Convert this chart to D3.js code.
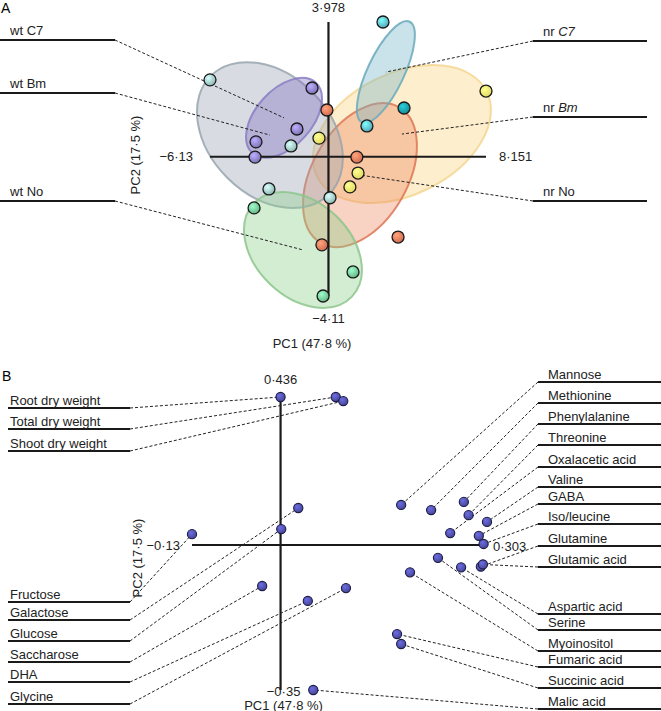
<!DOCTYPE html>
<html><head><meta charset="utf-8">
<script src="https://cdn.jsdelivr.net/npm/d3@7"></script>
<style>
html,body{margin:0;padding:0;background:#fff;}
svg{display:block;font-family:"Liberation Sans",Arial,Helvetica,sans-serif;}
</style></head>
<body>
<svg id="c" width="661" height="711"></svg>
<script>
// ---------- Panel A data ----------
const groupsA = ["wt C7","wt Bm","wt No","nr C7","nr Bm","nr No"];
const scoreGroup = ["nr C7","nr C7d","nr C7",
  "wt C7","wt C7","wt C7","wt C7",
  "wt Bm","wt Bm","wt Bm","wt Bm",
  "nr Bm","nr Bm","nr Bm","nr Bm",
  "nr No","nr No","nr No","nr No",
  "wt No","wt No","wt No"];
const scorePC1 = [2.82,3.91,1.99, -0.85,-1.63,-3.75,-3.80, -6.13,-1.94,-3.08,0.08, 8.151,-0.49,1.53,1.11, -0.08,1.47,-0.34,3.60, -3.85,1.27,-0.28];
const scorePC2 = [3.978,1.44,0.91, 2.03,0.82,0.44,-0.01, 2.27,0.32,-0.95,-1.21, 1.94,0.55,-0.48,-0.89, 1.38,-0.01,-2.60,-2.37, -1.51,-3.40,-4.11];
// confidence ellipses: centre (PC1, PC2), semi-axes (PC1 units, PC2 units), tilt
const ellGroup = ["nr Bm","nr No","nr C7","wt Bm","wt C7","wt No"];
const ellCX = [3.80,1.63,2.97,-3.03,-2.30,-1.32];
const ellCY = [0.67,-0.54,2.50,0.64,1.15,-2.75];
const ellRX = [4.91,4.05,2.88,4.33,2.45,3.50];
const ellRY = [1.79,1.41,0.54,1.78,0.83,1.40];
const ellAngle = [-26.7,-60,-64.7,45,-48,43.6];
const axisA = {xmin:-6.13, xmax:8.151, ymin:-4.11, ymax:3.978};
const xLabel = "PC1 (47·8 %)", yLabel = "PC2 (17·5 %)";

// ---------- Panel B data ----------
const variablesB = ["Root dry weight","Total dry weight","Shoot dry weight",
 "Fructose","Galactose","Glucose","Saccharose","DHA","Glycine",
 "Mannose","Methionine","Phenylalanine","Threonine","Oxalacetic acid","Valine","GABA","Iso/leucine","Glutamine","Glutamic acid",
 "Aspartic acid","Serine","Myoinositol","Fumaric acid","Succinic acid","Malic acid"];
const loadPC1 = [0.000,0.081,0.092, -0.130,0.026,0.001,-0.027,0.040,0.096,
 0.177,0.221,0.269,0.276,0.249,0.303,0.291,0.298,0.294,0.297,
 0.265,0.231,0.190,0.171,0.177,0.048];
const loadPC2 = [0.436,0.436,0.424, 0.032,0.109,0.047,-0.099,-0.135,-0.104,
 0.118,0.103,0.127,0.088,0.035,0.068,0.027,0.003,-0.052,-0.047,
 -0.054,-0.031,-0.066,-0.215,-0.239,-0.35];
const axisB = {xmin:-0.13, xmax:0.303, ymin:-0.35, ymax:0.436};
const fmt = v => (v<0?"\u2212":"") + String(Math.abs(v)).replace(".", "·");

// ---------- styles ----------
const ptColor = {"wt C7":"#8a7ec8","wt Bm":"#9dc9c2","wt No":"#72c894","nr C7":"#5cb9c9","nr C7d":"#1a99a3","nr Bm":"#f7ee6a","nr No":"#e7775a"};
const ellFill = {"wt C7":"#7e6ec0","wt Bm":"#98a4b2","wt No":"#8ccf8c","nr C7":"#74b2c8","nr Bm":"#f9d27c","nr No":"#ec8a5e"};
const ellStroke = {"wt C7":"#8a7cc4","wt Bm":"#98a4ae","wt No":"#8cc68c","nr C7":"#6aa9bb","nr Bm":"#f4d690","nr No":"#de7655"};

const svg = d3.select("#c");
const defs = svg.append("defs");
function grad(id, c){
  const g = defs.append("radialGradient").attr("id",id).attr("cx","38%").attr("cy","35%").attr("r","65%");
  g.append("stop").attr("offset","0%").attr("stop-color", d3.color(c).brighter(0.9));
  g.append("stop").attr("offset","100%").attr("stop-color", d3.color(c).darker(0.25));
}
Object.keys(ptColor).forEach((k,i)=>grad("g"+i, ptColor[k]));
const gradId = k => "url(#g"+Object.keys(ptColor).indexOf(k)+")";
grad("gb", "#4e4ea6");

const FS = 13;
// ---------- Panel A ----------
const xA = d3.scaleLinear().domain([axisA.xmin, axisA.xmax]).range([210, 486]);
const yA = d3.scaleLinear().domain([axisA.ymin, axisA.ymax]).range([296, 22]);
const gA = svg.append("g");

gA.append("text").attr("x",1).attr("y",13).attr("font-size",14).text("A");

ellGroup.forEach((g,i)=>{
  const cx = xA(ellCX[i]), cy = yA(ellCY[i]);
  const rx = xA(ellRX[i]) - xA(0), ry = yA(0) - yA(ellRY[i]);
  gA.append("ellipse").attr("cx",0).attr("cy",0).attr("rx",rx).attr("ry",ry)
    .attr("transform",`translate(${cx},${cy}) rotate(${ellAngle[i]})`)
    .attr("fill", ellFill[g]).attr("fill-opacity",0.38)
    .attr("stroke", ellStroke[g]).attr("stroke-width",2).attr("stroke-opacity",0.85);
});

gA.append("line").attr("x1",xA(0)).attr("x2",xA(0)).attr("y1",yA(axisA.ymax)).attr("y2",yA(axisA.ymin)).attr("stroke","#1a1a1a").attr("stroke-width",2.2);
gA.append("line").attr("x1",xA(axisA.xmin)).attr("x2",xA(axisA.xmax)).attr("y1",yA(0)).attr("y2",yA(0)).attr("stroke","#1a1a1a").attr("stroke-width",2.2);

const labA = {"wt C7":{side:"l",y:40},"wt Bm":{side:"l",y:93},"wt No":{side:"l",y:201},
              "nr C7":{side:"r",y:41},"nr Bm":{side:"r",y:117},"nr No":{side:"r",y:201}};
groupsA.forEach(g=>{
  const L = labA[g], i = ellGroup.indexOf(g);
  const x0 = L.side==="l"?0:533, x1 = L.side==="l"?115:647;
  const xe = L.side==="l"?x1:x0;
  gA.append("line").attr("x1",x0).attr("x2",x1).attr("y1",L.y).attr("y2",L.y).attr("stroke","#1a1a1a").attr("stroke-width",2);
  gA.append("line").attr("x1",xe).attr("y1",L.y).attr("x2",xA(ellCX[i])).attr("y2",yA(ellCY[i]))
    .attr("stroke","#222").attr("stroke-width",1).attr("stroke-dasharray","3,2");
  const parts = g.split(" ");
  const t = gA.append("text").attr("x", L.side==="l"?10:543).attr("y",L.y-5).attr("font-size",FS).attr("fill","#222");
  t.append("tspan").text(parts[0]+" ");
  t.append("tspan").attr("font-style", (L.side==="r" && parts[1]!=="No")?"italic":"normal").text(parts[1]);
});

scoreGroup.forEach((g,i)=>{
  gA.append("circle").attr("cx",xA(scorePC1[i])).attr("cy",yA(scorePC2[i])).attr("r",6)
    .attr("fill",gradId(g)).attr("stroke","#1a1a1a").attr("stroke-width",1.3);
});

gA.append("text").attr("x",xA(0)).attr("y",12).attr("text-anchor","middle").attr("font-size",FS).attr("fill","#222").text(fmt(axisA.ymax));
gA.append("text").attr("x",xA(0)).attr("y",323).attr("text-anchor","middle").attr("font-size",FS).attr("fill","#222").text(fmt(axisA.ymin));
gA.append("text").attr("x",193).attr("y",yA(0)+4.5).attr("text-anchor","end").attr("font-size",FS).attr("fill","#222").text(fmt(axisA.xmin));
gA.append("text").attr("x",499).attr("y",yA(0)+4.5).attr("font-size",FS).attr("fill","#222").text(fmt(axisA.xmax));
gA.append("text").attr("x",312).attr("y",348).attr("text-anchor","middle").attr("font-size",FS).attr("fill","#222").text(xLabel);
gA.append("text").attr("transform","translate(140,155) rotate(-90)").attr("text-anchor","middle").attr("font-size",FS).attr("fill","#222").text(yLabel);

// ---------- Panel B ----------
const xB = d3.scaleLinear().domain([axisB.xmin, axisB.xmax]).range([192, 487]);
const yB = d3.scaleLinear().domain([axisB.ymin, 0, axisB.ymax]).range([690, 545, 397]);
const gB = svg.append("g");
gB.append("text").attr("x",2).attr("y",381).attr("font-size",14).text("B");

gB.append("line").attr("x1",xB(0)).attr("x2",xB(0)).attr("y1",yB(axisB.ymax)).attr("y2",yB(axisB.ymin)).attr("stroke","#1a1a1a").attr("stroke-width",2.2);
gB.append("line").attr("x1",xB(axisB.xmin)).attr("x2",xB(axisB.xmax)).attr("y1",yB(0)).attr("y2",yB(0)).attr("stroke","#1a1a1a").attr("stroke-width",2.2);

const labYB = [408,429,451, 602,620,641,662,682,704, 382,403,424,445,467,487,504,524,546,567, 614,630,651,667,688,709];
variablesB.forEach((v,i)=>{
  const left = i<9;
  const yl = labYB[i];
  const x0 = left?8:538, x1 = left?130:661;
  const xe = left?x1:x0;
  gB.append("line").attr("x1",x0).attr("x2",x1).attr("y1",yl).attr("y2",yl).attr("stroke","#1a1a1a").attr("stroke-width",2);
  gB.append("line").attr("x1",xe).attr("y1",yl).attr("x2",xB(loadPC1[i])).attr("y2",yB(loadPC2[i]))
    .attr("stroke","#222").attr("stroke-width",1).attr("stroke-dasharray","3,2");
  gB.append("text").attr("x",left?10:548).attr("y",yl-3).attr("font-size",FS).attr("fill","#222").text(v);
});
variablesB.forEach((v,i)=>{
  gB.append("circle").attr("cx",xB(loadPC1[i])).attr("cy",yB(loadPC2[i])).attr("r",4.6)
    .attr("fill","url(#gb)").attr("stroke","#1c1c44").attr("stroke-width",1.1);
});

gB.append("text").attr("x",xB(0)).attr("y",384).attr("text-anchor","middle").attr("font-size",FS).attr("fill","#222").text(fmt(axisB.ymax));
gB.append("text").attr("x",180).attr("y",yB(0)+4.5).attr("text-anchor","end").attr("font-size",FS).attr("fill","#222").text(fmt(axisB.xmin));
gB.append("text").attr("x",493).attr("y",yB(0)+6).attr("font-size",FS).attr("fill","#222").text(fmt(axisB.xmax));
gB.append("text").attr("x",xB(0)+3).attr("y",696).attr("text-anchor","middle").attr("font-size",FS).attr("fill","#222").text(fmt(axisB.ymin));
gB.append("text").attr("x",xB(0)+3).attr("y",710).attr("text-anchor","middle").attr("font-size",FS).attr("fill","#222").text(xLabel);
gB.append("text").attr("transform","translate(142,558) rotate(-90)").attr("text-anchor","middle").attr("font-size",FS).attr("fill","#222").text(yLabel);
</script>
</body></html>
